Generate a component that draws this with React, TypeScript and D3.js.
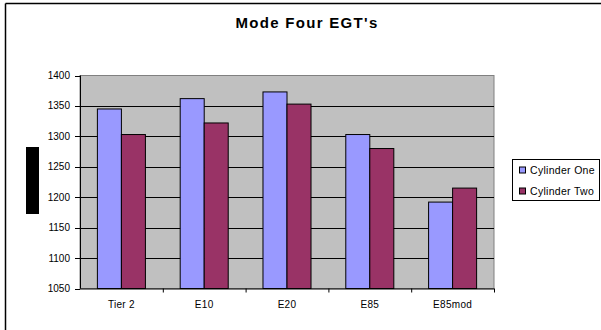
import React from "react";
import * as d3 from "d3";

const categories = ["Tier 2", "E10", "E20", "E85", "E85mod"];
const seriesNames = ["Cylinder One", "Cylinder Two"];
const cylinderOne = [1345, 1362, 1373, 1303, 1192];
const cylinderTwo = [1303, 1322, 1353, 1280, 1215];
const yTicks = [1050, 1100, 1150, 1200, 1250, 1300, 1350, 1400];
const colors = ["#9999FF", "#993366"];

export default function App() {
  const W = 601, H = 330;
  const left = 80, right = 494, top = 75.5, bottom = 288.5;
  const x = d3.scaleBand<string>().domain(categories).range([left, right]).paddingInner(0).paddingOuter(0);
  const y = d3.scaleLinear().domain([1050, 1400]).range([bottom, top]);
  const bw = x.bandwidth();
  const barW = bw * 0.29;
  const series = [cylinderOne, cylinderTwo];
  const font = "'Liberation Sans', Arial, sans-serif";

  return (
    <svg width={W} height={H} style={{ position: "absolute", left: 0, top: 0 }}>
      <rect x={0} y={0} width={W} height={H} fill="#fff" />
      <line x1={5.5} y1={3.5} x2={W} y2={3.5} stroke="#000" strokeWidth={1.5} />
      <line x1={5.5} y1={3.5} x2={5.5} y2={H} stroke="#000" strokeWidth={1.5} />
      <text x={307} y={27.5} textAnchor="middle" fontFamily={font} fontWeight="bold" fontSize={15} letterSpacing={1.3}>
        Mode Four EGT's
      </text>
      <rect x={left} y={top} width={right - left} height={bottom - top} fill="#C0C0C0" stroke="#808080" strokeWidth={1} />
      {yTicks.map((t) => (
        <g key={t}>
          {t !== 1050 && t !== 1400 && (
            <line x1={left} x2={right} y1={Math.round(y(t)) + 0.5} y2={Math.round(y(t)) + 0.5} stroke="#000" strokeWidth={1} />
          )}
          <line x1={left - 5} x2={left} y1={Math.round(y(t)) + 0.5} y2={Math.round(y(t)) + 0.5} stroke="#000" />
          <text x={left - 10} y={y(t) + 3.5} textAnchor="end" fontFamily={font} fontSize={10}>
            {t}
          </text>
        </g>
      ))}
      {categories.map((c, i) =>
        series.map((s, k) => {
          const cx = (x(c) as number) + bw / 2;
          const bx = cx - barW + k * barW;
          return (
            <rect key={c + k} x={bx} y={y(s[i])} width={barW} height={bottom - y(s[i])} fill={colors[k]} stroke="#000" strokeWidth={1} />
          );
        })
      )}
      <line x1={left + 0.5} x2={left + 0.5} y1={top} y2={bottom} stroke="#000" />
      <line x1={left} x2={right} y1={bottom + 0.5} y2={bottom + 0.5} stroke="#000" />
      {categories.map((c, i) => (
        <g key={c}>
          <line x1={(x(c) as number) + bw + 0.5} x2={(x(c) as number) + bw + 0.5} y1={bottom} y2={bottom + 4} stroke="#000" />
          <text x={(x(c) as number) + bw / 2} y={308} textAnchor="middle" fontFamily={font} fontSize={10} letterSpacing={0.3}>
            {c}
          </text>
        </g>
      ))}
      <rect x={26} y={147} width={13} height={67} fill="#000" />
      <rect x={512.5} y={159.5} width={87} height={41} fill="#fff" stroke="#000" />
      {seriesNames.map((n, k) => (
        <g key={n}>
          <rect x={519.5} y={167 + k * 21} width={6} height={6} fill={colors[k]} stroke="#000" />
          <text x={530} y={174 + k * 21} fontFamily={font} fontSize={10.5} letterSpacing={0.3}>
            {n}
          </text>
        </g>
      ))}
    </svg>
  );
}
